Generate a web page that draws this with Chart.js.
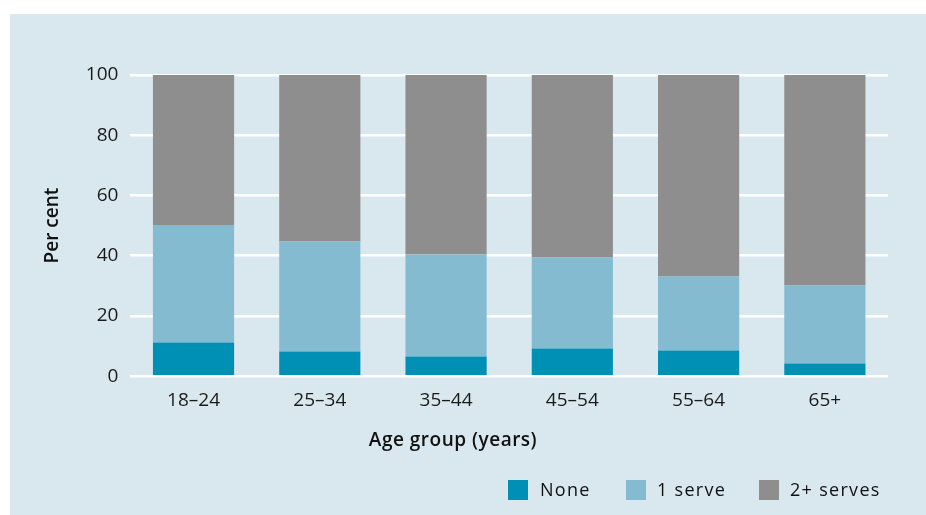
<!DOCTYPE html>
<html>
<head>
<meta charset="utf-8">
<script src="https://cdn.jsdelivr.net/npm/chart.js@4.4.0/dist/chart.umd.min.js"></script>
<style>
  html, body { margin: 0; padding: 0; background: #ffffff; }
  #wrap { position: relative; width: 926px; height: 515px; }
  #legend { position: absolute; top: 480px; left: 0; font-family: "Open Sans", sans-serif; font-size: 18px; letter-spacing: 1.3px; color: #111; }
  .item { position: absolute; top: 0; white-space: nowrap; }
  .box { position: absolute; top: 0; width: 20px; height: 20px; }
  .lbl { position: absolute; top: -3px; line-height: 24px; }
</style>
</head>
<body>
<div id="wrap">
  <canvas id="serves-chart" width="926" height="515"></canvas>
  <div id="legend"></div>
</div>
<script>
// data
const ageGroups = ["18–24", "25–34", "35–44", "45–54", "55–64", "65+"];
const noneServes = [11.2, 8.2, 6.5, 9.2, 8.5, 4.2];
const oneServe = [39.0, 36.5, 33.9, 30.2, 24.6, 25.9];
const twoPlusServes = [49.8, 55.3, 59.6, 60.6, 66.9, 69.9];
const yTicks = [0, 20, 40, 60, 80, 100];

const seriesNames = ["None", "1 serve", "2+ serves"];
const seriesColors = ["#0090b5", "#84bbd1", "#8e8e8e"];

// panel background
const panelBackground = {
  id: "panelBackground",
  beforeDraw(chart) {
    const ctx = chart.ctx;
    ctx.save();
    ctx.fillStyle = "#ffffff";
    ctx.fillRect(0, 0, chart.width, chart.height);
    ctx.fillStyle = "#d8e8ee";
    ctx.fillRect(10, 14, chart.width - 10, chart.height - 14);
    ctx.restore();
  },
};

// x axis title sits left of the plot centre in the original
const xTitle = {
  id: "xTitle",
  afterDraw(chart) {
    const ctx = chart.ctx;
    ctx.save();
    ctx.font = "600 19px 'Open Sans', sans-serif";
    ctx.letterSpacing = "0.5px";
    ctx.fillStyle = "#111111";
    ctx.textAlign = "center";
    ctx.textBaseline = "middle";
    ctx.fillText("Age group (years)", 453, 441);
    ctx.restore();
  },
};

const servesChart = new Chart(document.getElementById("serves-chart"), {
  type: "bar",
  data: {
    labels: ageGroups,
    datasets: [noneServes, oneServe, twoPlusServes].map((values, i) => ({
      label: seriesNames[i],
      data: values,
      backgroundColor: seriesColors[i],
      borderWidth: 0,
      categoryPercentage: 1,
      barPercentage: 0.643,
    })),
  },
  options: {
    responsive: false,
    animation: false,
    devicePixelRatio: 1,
    layout: {
      padding: { top: 75, right: 38, bottom: 90, left: 41 },
    },
    plugins: {
      legend: { display: false },
      tooltip: { enabled: false },
    },
    scales: {
      x: {
        stacked: true,
        grid: { display: false, drawTicks: false },
        border: { display: false },
        ticks: {
          padding: 13,
          color: "#1a1a1a",
          font: { family: "'Open Sans', sans-serif", size: 19 },
        },
      },
      y: {
        stacked: true,
        min: 0,
        max: 100,
        afterBuildTicks(scale) {
          scale.ticks = yTicks.map((v) => ({ value: v }));
        },
        grid: { color: "#ffffff", lineWidth: 2.5, drawTicks: false },
        border: { display: false },
        ticks: {
          padding: 12,
          color: "#1a1a1a",
          font: { family: "'Open Sans', sans-serif", size: 19 },
        },
        title: {
          display: true,
          text: "Per cent",
          color: "#111111",
          padding: { top: 0, bottom: 10 },
          font: { family: "'Open Sans', sans-serif", size: 19, weight: "600" },
        },
      },
    },
  },
  plugins: [panelBackground, xTitle],
});

// legend
const legendPos = [
  { box: 508, text: 540 },
  { box: 626, text: 657 },
  { box: 759, text: 790 },
];
const legendEl = document.getElementById("legend");
seriesNames.forEach((name, i) => {
  const item = document.createElement("div");
  item.className = "item";
  item.innerHTML =
    `<span class="box" style="left:${legendPos[i].box}px;background:${seriesColors[i]}"></span>` +
    `<span class="lbl" style="left:${legendPos[i].text}px">${name}</span>`;
  legendEl.appendChild(item);
});
</script>
</body>
</html>
